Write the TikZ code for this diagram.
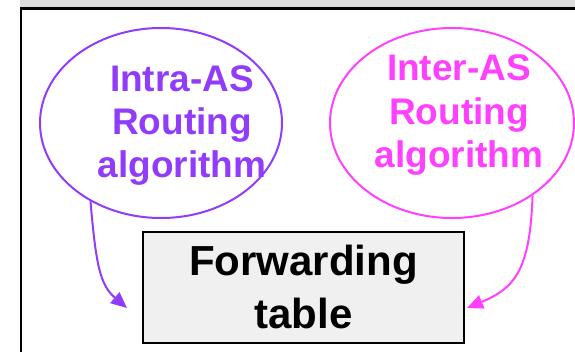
\documentclass[tikz,border=0pt]{standalone}
\usepackage{fontspec}
\setmainfont{Liberation Sans}
\usetikzlibrary{shapes.geometric,arrows.meta}
\definecolor{intracol}{RGB}{145,60,250}
\definecolor{intercol}{RGB}{255,64,255}
\definecolor{topgray}{RGB}{220,220,220}
\definecolor{boxgray}{RGB}{240,240,240}
\tikzset{
  algoellipse/.style={ellipse, draw, line width=2pt, inner sep=0pt},
  algotext/.style={align=center, font=\fontsize{37}{43}\selectfont\bfseries},
  tablebox/.style={rectangle, draw=black, fill=boxgray, line width=2pt,
    minimum width=321pt, minimum height=111pt, align=center,
    font=\fontsize{42}{53}\selectfont\bfseries},
  feed/.style={line width=2pt, -{Triangle[length=16pt,width=14pt]}}
}
\begin{document}
\begin{tikzpicture}[x=1pt,y=-1pt]
\useasboundingbox (0,0) rectangle (575,351);
\fill[white] (0,0) rectangle (575,351);
\fill[topgray] (20,0) rectangle (575,7.5);
\draw[line width=2.5pt] (21,360) -- (21,8.5) -- (580,8.5);
\node[algoellipse, draw=intracol, minimum width=242pt, minimum height=190pt] (intra) at (161,123) {};
\node[algoellipse, draw=intercol, minimum width=244pt, minimum height=190pt] (inter) at (452,123) {};
\node[algotext, text=intracol] (intratext) at (182,125) {Intra-AS\\Routing\\algorithm};
\node[algotext, text=intercol] (intertext) at (459,115) {Inter-AS\\Routing\\algorithm};
\node[tablebox] (table) at (303.5,287) {Forwarding\\table};
\coordinate (intratip) at (127,308);
\coordinate (intertip) at (467,308);
\draw[feed, intracol] (intra.228) .. controls (96,265) and (100,285) .. (intratip);
\draw[feed, intercol] (inter.318) .. controls (530,270) and (515,288) .. (intertip);
\end{tikzpicture}
\end{document}
